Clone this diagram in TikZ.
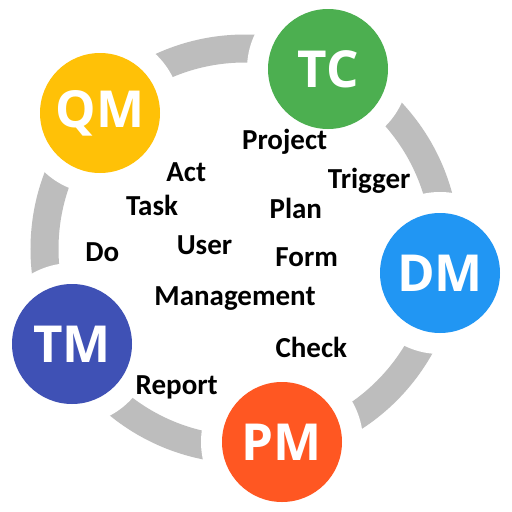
\documentclass[tikz,border=0pt]{standalone}
\usepackage{fontspec}
\newfontfamily\wordfont{Carlito}
\newfontfamily\circfont{Open Sans}
\definecolor{cqm}{HTML}{FFC107}
\definecolor{ctc}{HTML}{4CAF50}
\definecolor{cdm}{HTML}{2196F3}
\definecolor{cpm}{HTML}{FF5722}
\definecolor{ctm}{HTML}{3F51B5}
\definecolor{ring}{HTML}{BDBDBD}
\begin{document}
\begin{tikzpicture}[x=1pt,y=-1pt,
  hub/.style={circle,minimum size=120pt,inner sep=0pt,text=white,
    font=\circfont\bfseries\fontsize{51}{51}\selectfont},
  gap/.style={fill=white},
  word/.style={anchor=base,inner sep=0pt,text=black,
    font=\wordfont\bfseries\fontsize{29}{29}\selectfont}]
\useasboundingbox (0,0) rectangle (512,512);
\fill[white] (0,0) rectangle (512,512);
% ring
\draw[ring,line width=28pt] (245,249) circle (200.5);
% white gaps
\foreach \p in {(100,113),(328,69),(440,273),(282,442),(72,344)}
  \fill[gap] \p circle (81);
% hubs
\node[hub,fill=cqm] (qm) at (100,113) {QM};
\node[hub,fill=ctc] (tc) at (328,69) {TC};
\node[hub,fill=cdm] (dm) at (440,273) {DM};
\node[hub,fill=cpm] (pm) at (282,442) {PM};
\node[hub,fill=ctm] (tm) at (72,344) {TM};
% words
\node[word] (project) at (284.7,149.3) {Project};
\node[word] (trigger) at (369.2,188.3) {Trigger};
\node[word] (plan) at (295.8,218.3) {Plan};
\node[word] (act) at (186.2,181) {Act};
\node[word] (task) at (152,215) {Task};
\node[word] (do) at (102.2,261) {Do};
\node[word] (user) at (204.5,254.3) {User};
\node[word] (form) at (306.7,266.7) {Form};
\node[word] (mgmt) at (235,305) {Management};
\node[word] (check) at (311.3,357.3) {Check};
\node[word] (report) at (176.7,394.3) {Report};
\end{tikzpicture}
\end{document}
